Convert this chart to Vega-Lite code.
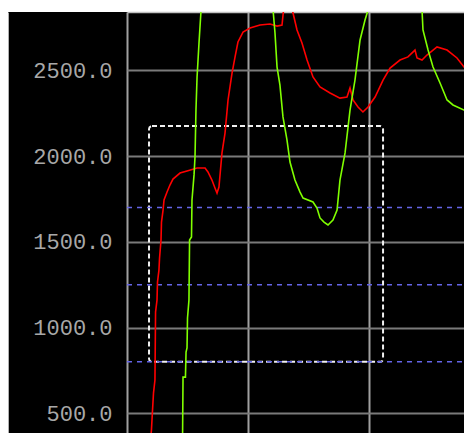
{
  "$schema": "https://vega.github.io/schema/vega-lite/v6.json",
  "width": 456,
  "height": 421,
  "autosize": {"type": "none"},
  "padding": {"left": 8, "top": 12, "right": 0, "bottom": 0},
  "background": "white",
  "config": {"view": {"fill": "black", "stroke": null}},
  "layer": [
    {
      "data": {"values": [{"x1": 1.82, "x2": 21.16, "y1": 800, "y2": 2175}]},
      "mark": {"type": "rect", "fill": null, "stroke": "#f0f0f0", "strokeWidth": 2, "strokeDash": [5, 3], "cornerRadius": 3, "clip": true},
      "encoding": {
        "x": {"field": "x1", "type": "quantitative", "scale": {"domain": [0, 27.85], "range": [119, 456], "nice": false, "zero": false},
          "axis": {"orient": "top", "values": [0, 10, 20], "labels": false, "ticks": false, "tickSize": 0, "domain": true, "domainColor": "#c0c0c0", "domainWidth": 1.5, "grid": true, "gridColor": "#a0a0a0", "gridWidth": 2, "title": null}},
        "x2": {"field": "x2"},
        "y": {"field": "y1", "type": "quantitative", "scale": {"domain": [385, 2840], "nice": false, "zero": false},
          "axis": {"orient": "left", "values": [500, 1000, 1500, 2000, 2500], "format": ".1f", "domain": true, "domainColor": "#b0b0b0", "domainWidth": 1, "ticks": false, "tickSize": 0, "labelPadding": -104, "labelFont": "Liberation Mono", "labelFontSize": 22, "labelColor": "#a8a8a8", "labelAlign": "right", "labelBaseline": "middle", "grid": true, "gridColor": "#7a7a7a", "gridWidth": 2, "title": null}},
        "y2": {"field": "y2"}
      }
    },
    {
      "data": {"values": [{"v": 800}, {"v": 1250}, {"v": 1700}]},
      "mark": {"type": "rule", "color": "#6464e6", "strokeWidth": 1.5, "strokeDash": [5, 5], "clip": true},
      "encoding": {
        "y": {"field": "v", "type": "quantitative"},
        "x": {"datum": 0, "type": "quantitative"},
        "x2": {"datum": 30}
      }
    },
    {
      "data": {"values": [
        {"s": "A", "x": 1.94, "y": 344}, {"s": "A", "x": 2.02, "y": 402}, {"s": "A", "x": 2.11, "y": 519}, {"s": "A", "x": 2.19, "y": 618},
        {"s": "A", "x": 2.31, "y": 694}, {"s": "A", "x": 2.36, "y": 1090}, {"s": "A", "x": 2.48, "y": 1160}, {"s": "A", "x": 2.52, "y": 1265},
        {"s": "A", "x": 2.64, "y": 1335}, {"s": "A", "x": 2.69, "y": 1405}, {"s": "A", "x": 2.81, "y": 1510}, {"s": "A", "x": 2.85, "y": 1615},
        {"s": "A", "x": 2.98, "y": 1685}, {"s": "A", "x": 3.06, "y": 1744}, {"s": "A", "x": 3.31, "y": 1790}, {"s": "A", "x": 3.55, "y": 1831},
        {"s": "A", "x": 3.80, "y": 1866}, {"s": "A", "x": 4.38, "y": 1901}, {"s": "A", "x": 4.96, "y": 1913}, {"s": "A", "x": 5.79, "y": 1930},
        {"s": "A", "x": 6.45, "y": 1930}, {"s": "A", "x": 6.69, "y": 1907}, {"s": "A", "x": 7.02, "y": 1860}, {"s": "A", "x": 7.27, "y": 1814},
        {"s": "A", "x": 7.44, "y": 1784}, {"s": "A", "x": 7.60, "y": 1819}, {"s": "A", "x": 7.85, "y": 2018}, {"s": "A", "x": 8.10, "y": 2134},
        {"s": "A", "x": 8.35, "y": 2327}, {"s": "A", "x": 8.68, "y": 2484}, {"s": "A", "x": 8.93, "y": 2578}, {"s": "A", "x": 9.17, "y": 2665},
        {"s": "A", "x": 9.59, "y": 2723}, {"s": "A", "x": 10.17, "y": 2747}, {"s": "A", "x": 10.99, "y": 2764}, {"s": "A", "x": 11.82, "y": 2770},
        {"s": "A", "x": 12.40, "y": 2758}, {"s": "A", "x": 12.81, "y": 2764}, {"s": "A", "x": 12.98, "y": 2881}, {"s": "A", "x": 13.31, "y": 2968},
        {"s": "A", "x": 13.72, "y": 2834}, {"s": "A", "x": 14.05, "y": 2735}, {"s": "A", "x": 14.46, "y": 2659}, {"s": "A", "x": 14.88, "y": 2560},
        {"s": "A", "x": 15.37, "y": 2461}, {"s": "A", "x": 15.95, "y": 2403}, {"s": "A", "x": 16.78, "y": 2368}, {"s": "A", "x": 17.60, "y": 2338},
        {"s": "A", "x": 18.18, "y": 2344}, {"s": "A", "x": 18.43, "y": 2397}, {"s": "A", "x": 18.68, "y": 2327}, {"s": "A", "x": 19.09, "y": 2286},
        {"s": "A", "x": 19.50, "y": 2257}, {"s": "A", "x": 19.92, "y": 2286}, {"s": "A", "x": 20.50, "y": 2344}, {"s": "A", "x": 21.16, "y": 2443},
        {"s": "A", "x": 21.74, "y": 2513}, {"s": "A", "x": 22.56, "y": 2560}, {"s": "A", "x": 23.22, "y": 2578}, {"s": "A", "x": 23.80, "y": 2618},
        {"s": "A", "x": 23.97, "y": 2572}, {"s": "A", "x": 24.38, "y": 2560}, {"s": "A", "x": 24.79, "y": 2589}, {"s": "A", "x": 25.62, "y": 2636},
        {"s": "A", "x": 26.45, "y": 2618}, {"s": "A", "x": 27.27, "y": 2572}, {"s": "A", "x": 27.85, "y": 2519}, {"s": "A", "x": 28.51, "y": 2473},
        {"s": "B", "x": 4.59, "y": 344}, {"s": "B", "x": 4.63, "y": 711}, {"s": "B", "x": 4.83, "y": 711}, {"s": "B", "x": 4.88, "y": 857},
        {"s": "B", "x": 4.96, "y": 881}, {"s": "B", "x": 5.00, "y": 1056}, {"s": "B", "x": 5.12, "y": 1160}, {"s": "B", "x": 5.17, "y": 1510},
        {"s": "B", "x": 5.33, "y": 1528}, {"s": "B", "x": 5.37, "y": 1744}, {"s": "B", "x": 5.54, "y": 1890}, {"s": "B", "x": 5.62, "y": 1994},
        {"s": "B", "x": 5.70, "y": 2268}, {"s": "B", "x": 5.79, "y": 2461}, {"s": "B", "x": 5.95, "y": 2659}, {"s": "B", "x": 6.12, "y": 2852},
        {"s": "B", "x": 9.09, "y": 3785}, {"s": "B", "x": 12.07, "y": 2852}, {"s": "B", "x": 12.23, "y": 2718}, {"s": "B", "x": 12.40, "y": 2519},
        {"s": "B", "x": 12.64, "y": 2414}, {"s": "B", "x": 12.89, "y": 2228}, {"s": "B", "x": 13.22, "y": 2094}, {"s": "B", "x": 13.47, "y": 1965},
        {"s": "B", "x": 13.88, "y": 1860}, {"s": "B", "x": 14.30, "y": 1790}, {"s": "B", "x": 14.55, "y": 1755}, {"s": "B", "x": 15.37, "y": 1732},
        {"s": "B", "x": 15.70, "y": 1697}, {"s": "B", "x": 15.95, "y": 1639}, {"s": "B", "x": 16.28, "y": 1615}, {"s": "B", "x": 16.61, "y": 1598},
        {"s": "B", "x": 17.02, "y": 1627}, {"s": "B", "x": 17.36, "y": 1685}, {"s": "B", "x": 17.60, "y": 1860}, {"s": "B", "x": 18.02, "y": 2018},
        {"s": "B", "x": 18.43, "y": 2268}, {"s": "B", "x": 18.84, "y": 2443}, {"s": "B", "x": 19.26, "y": 2677}, {"s": "B", "x": 19.67, "y": 2793},
        {"s": "B", "x": 19.92, "y": 2852}, {"s": "B", "x": 22.15, "y": 3610}, {"s": "B", "x": 24.38, "y": 2852}, {"s": "B", "x": 24.46, "y": 2735},
        {"s": "B", "x": 24.88, "y": 2618}, {"s": "B", "x": 25.29, "y": 2519}, {"s": "B", "x": 25.87, "y": 2426}, {"s": "B", "x": 26.45, "y": 2327},
        {"s": "B", "x": 26.94, "y": 2298}, {"s": "B", "x": 27.85, "y": 2268}, {"s": "B", "x": 28.51, "y": 2251}
      ]},
      "mark": {"type": "line", "strokeWidth": 1.6, "clip": true, "interpolate": "linear"},
      "encoding": {
        "x": {"field": "x", "type": "quantitative"},
        "y": {"field": "y", "type": "quantitative"},
        "color": {"field": "s", "type": "nominal", "scale": {"domain": ["A", "B"], "range": ["#ff0000", "#80ff00"]}, "legend": null}
      }
    }
  ]
}
